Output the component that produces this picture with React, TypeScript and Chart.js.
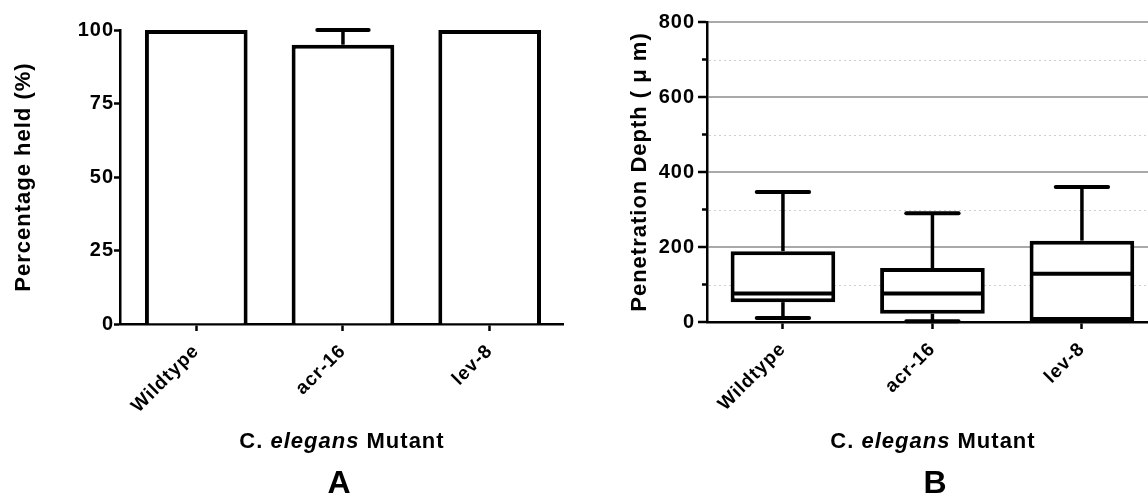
import React, { useEffect, useRef } from 'react';
import { Chart, registerables } from 'chart.js';

Chart.register(...registerables);

// ---------- data ----------
const categories = ['Wildtype', 'acr-16', 'lev-8'];

// Panel A: percentage held (bar + upper error)
const percentHeld = [100, 95, 100];
const percentHeldErrorUp = [0, 5, 0];
const percentTickStep = 25;
const percentAxisMax = 100;

// Panel B: penetration depth box plots
const depthMin = [11, 2, 0];
const depthQ1 = [53, 22, 0];
const depthMedian = [76, 76, 129];
const depthQ3 = [189, 144, 217];
const depthMax = [347, 290, 360];
const depthTickStep = 200;
const depthMinorTicks = [100, 300, 500, 700];
const depthAxisMax = 800;

const yTitleA = 'Percentage held (%)';
const yTitleB = 'Penetration Depth ( \u03bc m)';
const panelLetters = ['A', 'B'];

// ---------- styles ----------
const FAMILY = '"Liberation Sans", Arial, Helvetica, sans-serif';
const SPACING = '1px';
const yTickFont = { family: FAMILY, size: 20, weight: 'bold' as const };
const xTickFont = { family: FAMILY, size: 19, weight: 'bold' as const };
const titleFont = { family: FAMILY, size: 22, weight: 'bold' as const };

const letterSpacingPlugin = {
  id: 'letterSpacing',
  beforeUpdate(chart: any) { chart.ctx.letterSpacing = SPACING; },
  beforeLayout(chart: any) { chart.ctx.letterSpacing = SPACING; },
  beforeDraw(chart: any) { chart.ctx.letterSpacing = SPACING; },
};

const errorBarPlugin = {
  id: 'errorBars',
  afterDatasetsDraw(chart: any) {
    const { ctx, scales } = chart;
    const x = scales.x, y = scales.y;
    const unit = x.getPixelForValue(1) - x.getPixelForValue(0);
    const capHalf = unit * 0.175;
    ctx.save();
    ctx.strokeStyle = '#000';
    categories.forEach((_, i) => {
      const e = percentHeldErrorUp[i];
      if (!e) return;
      const cx = x.getPixelForValue(i);
      const y0 = y.getPixelForValue(percentHeld[i]);
      const y1 = y.getPixelForValue(percentHeld[i] + e);
      ctx.lineWidth = 3.5;
      ctx.beginPath(); ctx.moveTo(cx, y0); ctx.lineTo(cx, y1); ctx.stroke();
      ctx.lineWidth = 4;
      ctx.lineCap = 'round';
      ctx.beginPath(); ctx.moveTo(cx - capHalf, y1); ctx.lineTo(cx + capHalf, y1); ctx.stroke();
    });
    ctx.restore();
  },
};

const boxPlotPlugin = {
  id: 'boxWhiskers',
  beforeDatasetsDraw(chart: any) {
    const { ctx, chartArea, scales } = chart;
    const y = scales.y;
    ctx.save();
    // dotted minor gridlines
    ctx.strokeStyle = '#cfcfcf';
    ctx.lineWidth = 1.2;
    ctx.setLineDash([2, 3]);
    depthMinorTicks.forEach((v) => {
      const py = Math.round(y.getPixelForValue(v)) + 0.5;
      ctx.beginPath(); ctx.moveTo(chartArea.left + 2, py); ctx.lineTo(chartArea.right, py); ctx.stroke();
    });
    // minor tick marks
    ctx.setLineDash([]);
    ctx.strokeStyle = '#000';
    ctx.lineWidth = 2.5;
    depthMinorTicks.forEach((v) => {
      const py = y.getPixelForValue(v);
      ctx.beginPath(); ctx.moveTo(chartArea.left - 5, py); ctx.lineTo(chartArea.left, py); ctx.stroke();
    });
    ctx.restore();
  },
  afterDatasetsDraw(chart: any) {
    const { ctx, scales } = chart;
    const x = scales.x, y = scales.y;
    const unit = x.getPixelForValue(1) - x.getPixelForValue(0);
    const capHalf = unit * 0.175;
    const boxHalf = unit * 0.70 / 2;
    ctx.save();
    ctx.strokeStyle = '#000';
    categories.forEach((_, i) => {
      const cx = x.getPixelForValue(i);
      const pQ1 = y.getPixelForValue(depthQ1[i]);
      const pQ3 = y.getPixelForValue(depthQ3[i]);
      const pMed = y.getPixelForValue(depthMedian[i]);
      const pMax = y.getPixelForValue(depthMax[i]);
      const pMin = y.getPixelForValue(depthMin[i]);
      // median
      ctx.lineWidth = 4;
      ctx.lineCap = 'butt';
      ctx.beginPath(); ctx.moveTo(cx - boxHalf + 2, pMed); ctx.lineTo(cx + boxHalf - 2, pMed); ctx.stroke();
      // upper whisker
      ctx.lineWidth = 3.5;
      ctx.beginPath(); ctx.moveTo(cx, pQ3); ctx.lineTo(cx, pMax); ctx.stroke();
      ctx.lineWidth = 4;
      ctx.lineCap = 'round';
      ctx.beginPath(); ctx.moveTo(cx - capHalf, pMax); ctx.lineTo(cx + capHalf, pMax); ctx.stroke();
      // lower whisker
      if (depthMin[i] < depthQ1[i]) {
        ctx.lineCap = 'butt';
        ctx.lineWidth = 3.5;
        ctx.beginPath(); ctx.moveTo(cx, pQ1); ctx.lineTo(cx, pMin); ctx.stroke();
        ctx.lineWidth = 4;
        ctx.lineCap = 'round';
        ctx.beginPath(); ctx.moveTo(cx - capHalf, pMin); ctx.lineTo(cx + capHalf, pMin); ctx.stroke();
      }
    });
    ctx.restore();
  },
};

function xScale(min: number, max: number, height: number) {
  return {
    type: 'linear' as const,
    min,
    max,
    offset: false,
    afterBuildTicks: (s: any) => { s.ticks = categories.map((_, i) => ({ value: i })); },
    afterFit: (s: any) => { s.height = height; },
    ticks: {
      autoSkip: false,
      minRotation: 45,
      maxRotation: 45,
      color: '#000',
      font: xTickFont,
      padding: 9,
      callback: (v: any) => categories[v] ?? '',
    },
    grid: { drawOnChartArea: false, drawTicks: true, tickLength: 7, tickColor: '#000', tickWidth: 2.5, offset: false },
    border: { display: true, color: '#000', width: 2.5 },
  };
}

export default function App() {
  const refA = useRef<HTMLCanvasElement>(null);
  const refB = useRef<HTMLCanvasElement>(null);

  useEffect(() => {
    const chartA = new Chart(refA.current as HTMLCanvasElement, {
      type: 'bar',
      data: {
        datasets: [{
          data: categories.map((_, i) => ({ x: i, y: percentHeld[i] })),
          backgroundColor: '#ffffff',
          borderColor: '#000000',
          borderWidth: 4,
          borderSkipped: 'start',
          categoryPercentage: 1,
          barPercentage: 0.70,
        }],
      } as any,
      options: {
        responsive: false,
        animation: false,
        events: [],
        layout: { padding: { top: 30, right: 17, bottom: 0, left: 0 } },
        plugins: { legend: { display: false }, tooltip: { enabled: false } },
        scales: {
          x: xScale(-0.52, 2.5, 170) as any,
          y: {
            min: 0,
            max: percentAxisMax,
            afterFit: (s: any) => { s.width = 120; },
            ticks: { stepSize: percentTickStep, color: '#000', font: yTickFont, padding: 0 },
            grid: { drawOnChartArea: false, drawTicks: true, tickLength: 6, tickColor: '#000', tickWidth: 2.5 },
            border: { display: true, color: '#000', width: 2.5 },
            title: { display: true, text: yTitleA, color: '#000', font: titleFont, padding: { top: 11, bottom: 0 } },
          },
        },
      } as any,
      plugins: [letterSpacingPlugin, errorBarPlugin],
    });

    const chartB = new Chart(refB.current as HTMLCanvasElement, {
      type: 'bar',
      data: {
        datasets: [{
          data: categories.map((_, i) => ({ x: i, y: [depthQ1[i], depthQ3[i]] })),
          backgroundColor: '#ffffff',
          borderColor: '#000000',
          borderWidth: 4,
          borderSkipped: false,
          categoryPercentage: 1,
          barPercentage: 0.70,
        }],
      } as any,
      options: {
        responsive: false,
        animation: false,
        events: [],
        layout: { padding: { top: 22, right: 0, bottom: 0, left: 0 } },
        plugins: { legend: { display: false }, tooltip: { enabled: false } },
        scales: {
          x: xScale(-0.508, 2.442, 172) as any,
          y: {
            min: 0,
            max: depthAxisMax,
            afterFit: (s: any) => { s.width = 127; },
            ticks: { stepSize: depthTickStep, color: '#000', font: yTickFont, padding: 3 },
            grid: {
              drawOnChartArea: true,
              drawTicks: true,
              tickLength: 9,
              tickColor: '#000',
              tickWidth: 2.5,
              lineWidth: 2,
              color: (c: any) => (c.tick && c.tick.value === 0 ? 'rgba(0,0,0,0)' : '#a9a9a9'),
            },
            border: { display: true, color: '#000', width: 2.5 },
            title: { display: true, text: yTitleB, color: '#000', font: titleFont, padding: { top: 47, bottom: 0 } },
          },
        },
      } as any,
      plugins: [letterSpacingPlugin, boxPlotPlugin],
    });

    return () => { chartA.destroy(); chartB.destroy(); };
  }, []);

  const xTitleStyle = (center: number): React.CSSProperties => ({
    position: 'absolute', left: center - 150, top: 428, width: 300, textAlign: 'center',
    font: `bold 22px ${FAMILY}`, lineHeight: '26px', letterSpacing: SPACING, color: '#000', whiteSpace: 'nowrap',
  });
  const letterStyle = (center: number): React.CSSProperties => ({
    position: 'absolute', left: center - 30, top: 464, width: 60, textAlign: 'center',
    font: `bold 32px ${FAMILY}`, lineHeight: '36px', color: '#000',
  });

  return (
    <div style={{ position: 'absolute', left: 0, top: 0, width: 1148, height: 494, background: '#fff', overflow: 'hidden' }}>
      <canvas ref={refA} width={580} height={494} style={{ position: 'absolute', left: 0, top: 0 }} />
      <canvas ref={refB} width={568} height={494} style={{ position: 'absolute', left: 580, top: 0 }} />
      <div style={xTitleStyle(342)}>C. <i>elegans</i> Mutant</div>
      <div style={xTitleStyle(933)}>C. <i>elegans</i> Mutant</div>
      <div style={letterStyle(339)}>{panelLetters[0]}</div>
      <div style={letterStyle(935)}>{panelLetters[1]}</div>
    </div>
  );
}
